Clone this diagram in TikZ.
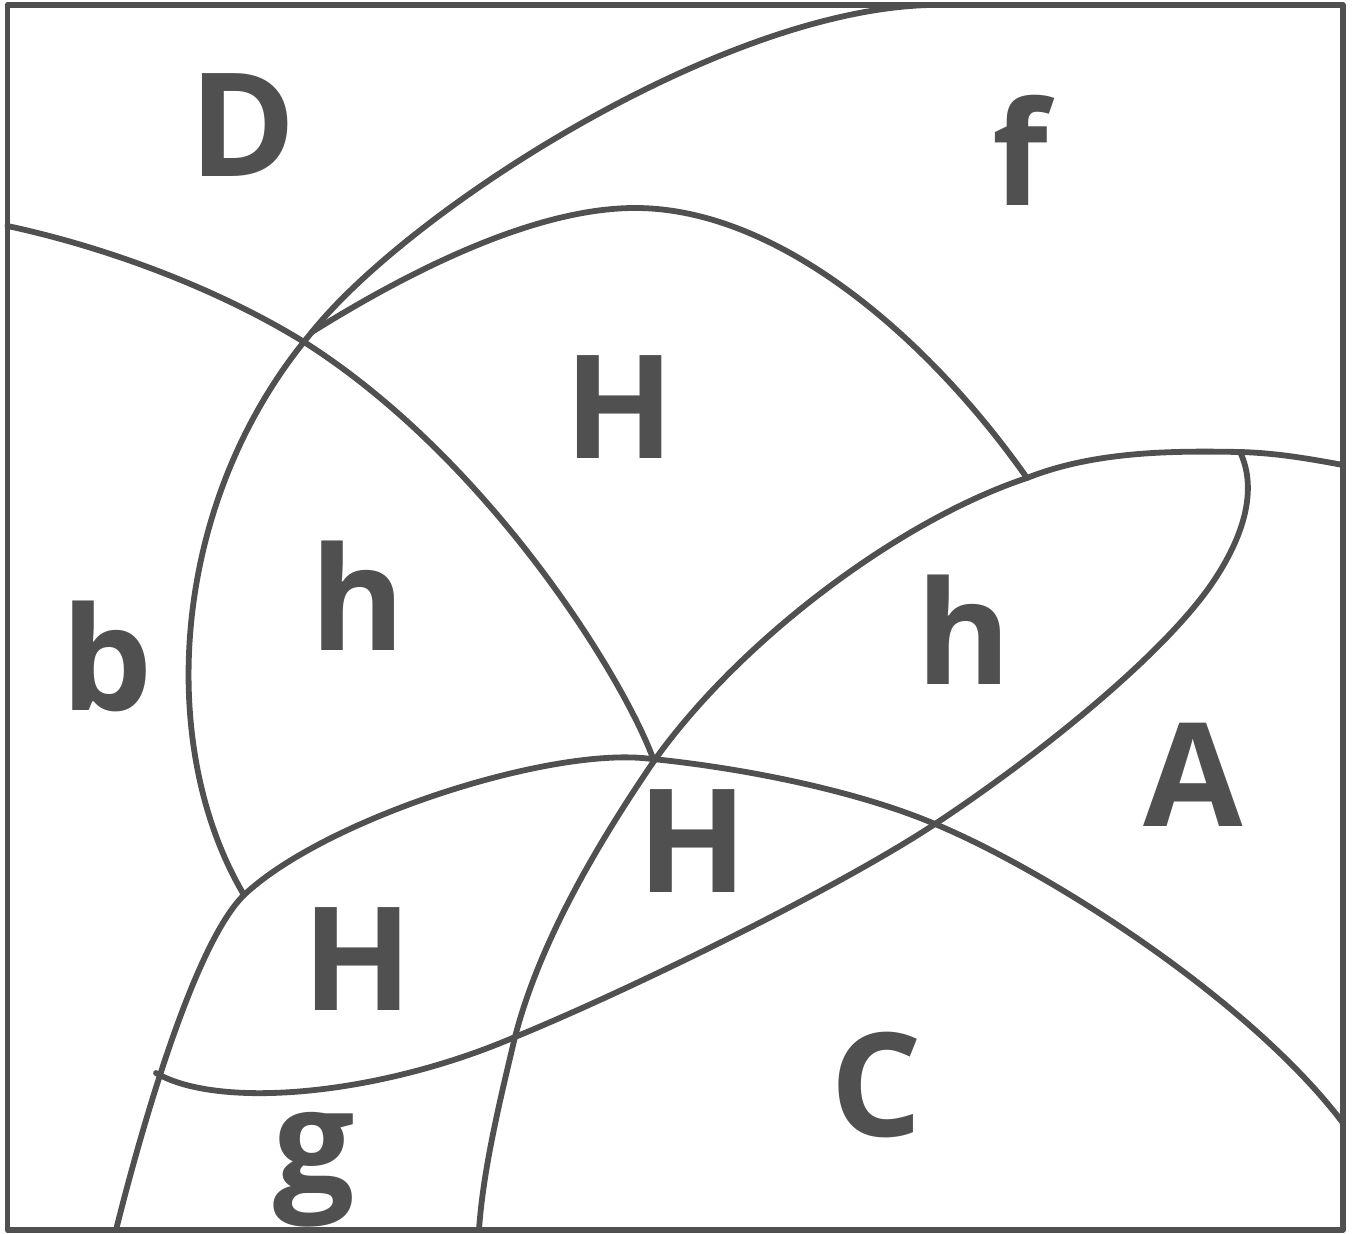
\documentclass[tikz,border=0pt]{standalone}
\usepackage{fontspec}
\setmainfont{Open Sans}
\definecolor{ink}{HTML}{505050}
\begin{document}
\begin{tikzpicture}[x=0.01cm,y=-0.01cm,
  curve/.style={draw=ink,line width=0.058cm,line join=round,line cap=round},
  lab/.style={text=ink,font=\fontsize{41}{41}\selectfont\bfseries,inner sep=0pt}]
\useasboundingbox (0,0) rectangle (1354,1234);
% frame
\draw[curve] (7.5,5) rectangle (1343,1230);
% junction points
\coordinate (tTop) at (930,5);
\coordinate (jNW) at (312,332);
\coordinate (jW) at (244,895);
\coordinate (jC) at (654,761);
\coordinate (jE) at (1027,478);
\coordinate (jTip) at (1240,452);
\coordinate (jS) at (515,1037);
\coordinate (jSE) at (935,824);
\coordinate (jSW) at (156,1073);
% big arc from top
\draw[curve] (tTop) .. controls (720,10) and (410,210) .. (jNW)
  .. controls (170,500) and (155,745) .. (jW);
% left arc
\draw[curve] (7.5,226) .. controls (110,248) and (220,290) .. (304,342)
  .. controls (490,460) and (625,680) .. (jC);
% dome
\draw[curve] (jNW) .. controls (400,277) and (530,208) .. (635,208)
  .. controls (780,208) and (930,340) .. (jE);
% long curve
\draw[curve] (1343,465) .. controls (1305,458) and (1275,453) .. (jTip)
  .. controls (1180,451) and (1097,450) .. (jE)
  .. controls (900,520) and (740,640) .. (jC)
  .. controls (600,840) and (540,940) .. (jS)
  .. controls (500,1100) and (483,1170) .. (479,1230);
% loop lower branch
\draw[curve] (jTip) .. controls (1256,485) and (1248,530) .. (1213,582)
  .. controls (1163,656) and (1035,758) .. (jSE)
  .. controls (835,890) and (625,992) .. (jS)
  .. controls (380,1095) and (220,1110) .. (jSW);
% lower dome
\draw[curve] (116,1230) .. controls (141,1130) and (194,944) .. (jW)
  .. controls (324,820) and (540,750) .. (642,758)
  .. controls (730,766) and (850,788) .. (jSE)
  .. controls (1050,872) and (1250,1000) .. (1343,1123);
% labels
\node[lab] (D) at (243,125) {D};
\node[lab] (f) at (1020,150) {f};
\node[lab] (H1) at (620,407) {H};
\node[lab] (h1) at (358,596) {h};
\node[lab] (b) at (107,656) {b};
\node[lab] (h2) at (964,630) {h};
\node[lab] (A) at (1193,775) {A};
\node[lab] (H2) at (693,841) {H};
\node[lab] (H3) at (358,959) {H};
\node[lab] (C) at (876,1085) {C};
\node[lab] (g) at (314,1170) {g};
\end{tikzpicture}
\end{document}
